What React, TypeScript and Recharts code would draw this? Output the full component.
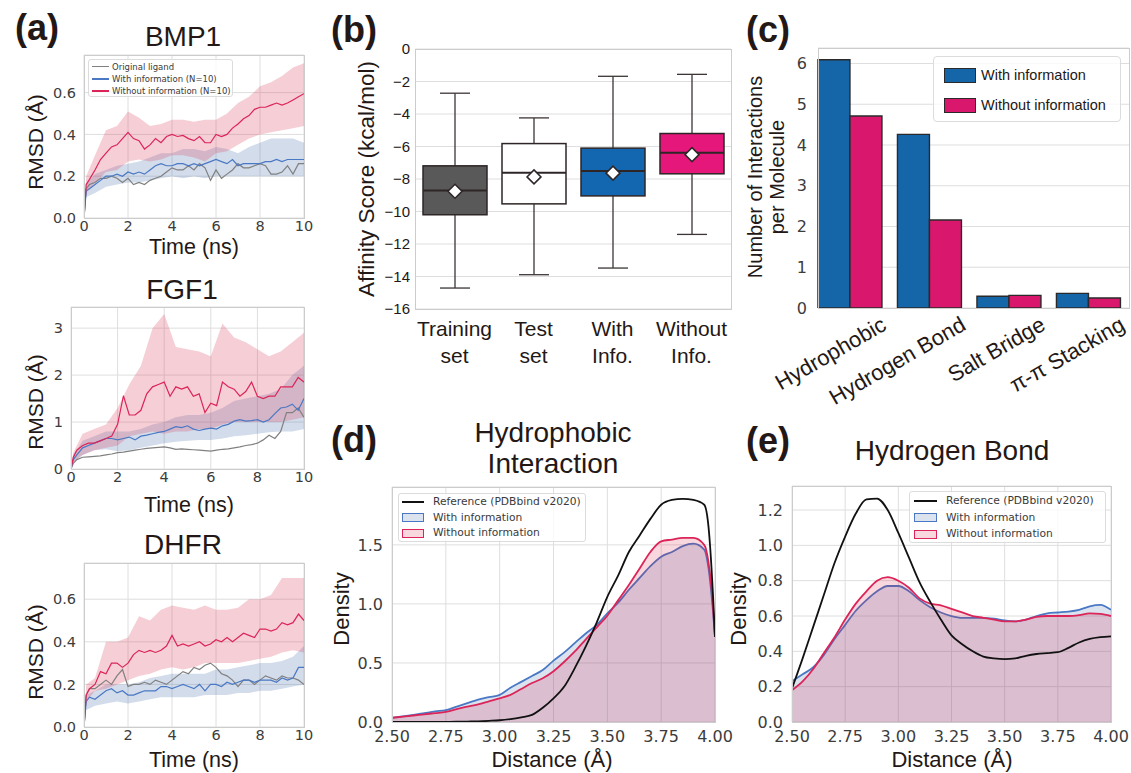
import React from "react";
import {
  ComposedChart,
  BarChart,
  Bar,
  Line,
  Area,
  XAxis,
  YAxis,
  CartesianGrid
} from "recharts";

const UI = '"Liberation Sans", Arial, Helvetica, sans-serif';
const DJ = '"DejaVu Sans", Verdana, sans-serif';
const INK = "#231815";
const TICK = "#3c3c3c";
const GRID = "#dedede";
const SPINE = "#cccccc";

const RED = "#dc2458";
const BLUE = "#4a78c4";
const GREY = "#808080";

// ---------- (a) RMSD traces ----------
const lineTimes = [0, 0.1, ...Array.from({ length: 40 }, (_, i) => (i + 1) * 0.25)];
const bandTimes = [0, 0.1, ...Array.from({ length: 20 }, (_, i) => (i + 1) * 0.5)];

const bmpOrig = [0, 0.14, 0.16, 0.17, 0.19, 0.19, 0.2, 0.19, 0.17, 0.19, 0.16, 0.17, 0.16, 0.18, 0.19, 0.2, 0.22, 0.24, 0.23, 0.23, 0.25, 0.23, 0.26, 0.24, 0.18, 0.23, 0.19, 0.21, 0.23, 0.26, 0.24, 0.24, 0.25, 0.26, 0.25, 0.21, 0.21, 0.22, 0.25, 0.21, 0.26, 0.26];
const bmpWith = [0, 0.13, 0.14, 0.16, 0.18, 0.2, 0.2, 0.21, 0.2, 0.22, 0.21, 0.22, 0.21, 0.23, 0.25, 0.26, 0.25, 0.25, 0.26, 0.26, 0.25, 0.26, 0.25, 0.26, 0.27, 0.28, 0.27, 0.26, 0.28, 0.25, 0.26, 0.26, 0.26, 0.26, 0.27, 0.27, 0.28, 0.27, 0.28, 0.28, 0.28, 0.28];
const bmpWithout = [0, 0.16, 0.185, 0.23, 0.28, 0.31, 0.34, 0.35, 0.38, 0.41, 0.38, 0.37, 0.33, 0.35, 0.38, 0.36, 0.39, 0.4, 0.39, 0.395, 0.38, 0.37, 0.39, 0.36, 0.36, 0.4, 0.39, 0.4, 0.43, 0.45, 0.475, 0.49, 0.52, 0.53, 0.53, 0.54, 0.55, 0.54, 0.55, 0.565, 0.58, 0.595];
const bmpWithLo = [0, 0.1, 0.12, 0.15, 0.16, 0.17, 0.17, 0.18, 0.19, 0.2, 0.19, 0.2, 0.19, 0.2, 0.2, 0.2, 0.2, 0.2, 0.2, 0.2, 0.2, 0.2];
const bmpWithHi = [0, 0.16, 0.21, 0.23, 0.25, 0.26, 0.27, 0.29, 0.31, 0.31, 0.33, 0.33, 0.32, 0.34, 0.33, 0.31, 0.34, 0.36, 0.38, 0.38, 0.38, 0.36];
const bmpWithoutLo = [0, 0.12, 0.17, 0.22, 0.23, 0.27, 0.28, 0.27, 0.28, 0.3, 0.3, 0.29, 0.27, 0.31, 0.32, 0.35, 0.38, 0.4, 0.41, 0.42, 0.43, 0.44];
const bmpWithoutHi = [0, 0.2, 0.3, 0.42, 0.44, 0.51, 0.48, 0.44, 0.45, 0.47, 0.47, 0.46, 0.47, 0.47, 0.5, 0.55, 0.58, 0.63, 0.65, 0.68, 0.72, 0.74];

const fgfOrig = [0, 0.12, 0.2, 0.25, 0.26, 0.27, 0.28, 0.3, 0.32, 0.35, 0.36, 0.38, 0.4, 0.42, 0.44, 0.45, 0.46, 0.47, 0.45, 0.42, 0.43, 0.42, 0.41, 0.4, 0.39, 0.38, 0.4, 0.42, 0.43, 0.45, 0.47, 0.5, 0.52, 0.55, 0.62, 0.72, 0.65, 0.8, 1.2, 1.2, 1.3, 1.1];
const fgfWith = [0, 0.2, 0.3, 0.45, 0.5, 0.55, 0.6, 0.65, 0.65, 0.62, 0.65, 0.68, 0.62, 0.7, 0.72, 0.75, 0.78, 0.8, 0.85, 0.9, 0.88, 0.92, 0.85, 0.82, 0.85, 0.87, 0.85, 0.92, 0.95, 1.02, 1.05, 1.02, 1.03, 1.05, 1.0, 1.05, 1.18, 1.3, 1.32, 1.38, 1.25, 1.5];
const fgfWithout = [0, 0.25, 0.4, 0.5, 0.55, 0.55, 0.6, 0.65, 0.7, 0.95, 1.56, 1.15, 1.15, 1.25, 1.6, 1.75, 1.8, 1.85, 1.55, 1.75, 1.7, 1.75, 1.55, 1.6, 1.2, 1.4, 1.35, 1.85, 1.75, 1.7, 1.55, 1.65, 1.85, 1.55, 1.5, 1.55, 1.55, 1.75, 1.75, 1.75, 1.95, 1.85];
const fgfWithLo = [0, 0.15, 0.3, 0.4, 0.42, 0.38, 0.4, 0.45, 0.5, 0.55, 0.58, 0.6, 0.62, 0.62, 0.65, 0.7, 0.72, 0.75, 0.78, 0.8, 0.8, 0.85];
const fgfWithHi = [0, 0.3, 0.6, 0.7, 0.8, 0.8, 0.8, 0.85, 0.95, 1.0, 1.1, 1.15, 1.15, 1.2, 1.3, 1.45, 1.5, 1.55, 1.6, 1.7, 2.0, 2.2];
const fgfWithoutLo = [0, 0.15, 0.3, 0.4, 0.45, 0.5, 0.7, 0.75, 0.8, 0.75, 0.8, 0.8, 0.85, 0.85, 0.95, 1.0, 1.0, 1.0, 1.0, 1.0, 1.05, 1.1];
const fgfWithoutHi = [0, 0.35, 0.75, 0.85, 0.95, 1.3, 1.8, 2.2, 3.0, 3.3, 2.6, 2.55, 2.5, 2.4, 3.1, 2.8, 2.7, 2.55, 2.4, 2.5, 2.7, 2.9];

const dhfrOrig = [0, 0.15, 0.18, 0.18, 0.2, 0.22, 0.2, 0.24, 0.27, 0.19, 0.2, 0.2, 0.21, 0.2, 0.22, 0.21, 0.2, 0.22, 0.24, 0.26, 0.25, 0.28, 0.27, 0.29, 0.3, 0.28, 0.25, 0.24, 0.22, 0.19, 0.22, 0.22, 0.2, 0.22, 0.24, 0.23, 0.22, 0.24, 0.23, 0.23, 0.22, 0.2];
const dhfrWith = [0, 0.12, 0.14, 0.13, 0.15, 0.17, 0.18, 0.16, 0.17, 0.15, 0.15, 0.16, 0.17, 0.17, 0.17, 0.19, 0.19, 0.18, 0.19, 0.2, 0.19, 0.18, 0.2, 0.17, 0.2, 0.2, 0.19, 0.21, 0.2, 0.21, 0.22, 0.22, 0.21, 0.22, 0.22, 0.22, 0.21, 0.23, 0.22, 0.23, 0.28, 0.28];
const dhfrWithout = [0, 0.15, 0.18, 0.2, 0.26, 0.25, 0.3, 0.3, 0.28, 0.3, 0.34, 0.36, 0.35, 0.36, 0.35, 0.36, 0.38, 0.43, 0.38, 0.39, 0.38, 0.39, 0.4, 0.38, 0.39, 0.41, 0.4, 0.42, 0.4, 0.42, 0.44, 0.43, 0.42, 0.46, 0.46, 0.45, 0.46, 0.49, 0.48, 0.49, 0.53, 0.5];
const dhfrWithLo = [0, 0.08, 0.1, 0.11, 0.12, 0.11, 0.12, 0.13, 0.14, 0.14, 0.14, 0.14, 0.15, 0.15, 0.15, 0.16, 0.16, 0.17, 0.17, 0.18, 0.19, 0.2];
const dhfrWithHi = [0, 0.15, 0.17, 0.2, 0.2, 0.2, 0.21, 0.23, 0.24, 0.25, 0.25, 0.25, 0.25, 0.27, 0.27, 0.28, 0.29, 0.3, 0.3, 0.31, 0.33, 0.38];
const dhfrWithoutLo = [0, 0.12, 0.17, 0.18, 0.2, 0.22, 0.24, 0.25, 0.27, 0.28, 0.27, 0.28, 0.3, 0.3, 0.3, 0.3, 0.31, 0.32, 0.33, 0.35, 0.36, 0.35];
const dhfrWithoutHi = [0, 0.2, 0.23, 0.4, 0.4, 0.42, 0.52, 0.5, 0.55, 0.57, 0.56, 0.55, 0.57, 0.55, 0.55, 0.56, 0.6, 0.6, 0.62, 0.7, 0.7, 0.7];

// ---------- (b) affinity box plot ----------
const boxCats = ["Training set", "Test set", "With Info.", "Without Info."];
const boxLabelTop = ["Training", "Test", "With", "Without"];
const boxLabelBottom = ["set", "set", "Info.", "Info."];
const whiskerLow = [-14.71, -13.89, -13.48, -11.41];
const q1 = [-10.2, -9.53, -9.04, -7.68];
const medians = [-8.71, -7.62, -7.5, -6.39];
const q3 = [-7.19, -5.82, -6.1, -5.2];
const whiskerHigh = [-2.72, -4.24, -1.68, -1.56];
const means = [-8.75, -7.87, -7.64, -6.5];
const affinityTicks = [0, -2, -4, -6, -8, -10, -12, -14, -16];
const boxColors = ["#595959", "#ffffff", "#1367b0", "#e5177a"];

// ---------- (c) interactions ----------
const interCats = ["Hydrophobic", "Hydrogen Bond", "Salt Bridge", "π-π Stacking"];
const interWith = [6.09, 4.26, 0.29, 0.36];
const interWithout = [4.71, 2.16, 0.31, 0.245];
const interTicks = [0, 1, 2, 3, 4, 5, 6];

// ---------- (d) hydrophobic distance density ----------
const dDist = [2.5, 2.55, 2.6, 2.65, 2.7, 2.75, 2.8, 2.85, 2.9, 2.95, 3.0, 3.05, 3.1, 3.15, 3.2, 3.25, 3.3, 3.35, 3.4, 3.45, 3.5, 3.55, 3.6, 3.65, 3.7, 3.75, 3.8, 3.85, 3.9, 3.95, 3.97, 3.99, 4.0];
const dRef = [0, 0, 0, 0, 0, 0.001, 0.002, 0.004, 0.006, 0.01, 0.015, 0.025, 0.04, 0.06, 0.12, 0.2, 0.3, 0.46, 0.64, 0.84, 1.06, 1.24, 1.44, 1.58, 1.72, 1.84, 1.88, 1.89, 1.88, 1.84, 1.65, 1.1, 0.72];
const dWith = [0.037, 0.048, 0.06, 0.075, 0.09, 0.1, 0.13, 0.16, 0.19, 0.21, 0.23, 0.29, 0.34, 0.39, 0.44, 0.52, 0.59, 0.67, 0.75, 0.82, 0.92, 1.01, 1.12, 1.22, 1.32, 1.4, 1.44, 1.49, 1.51, 1.46, 1.3, 0.95, 0.72];
const dWithout = [0.035, 0.045, 0.055, 0.065, 0.075, 0.085, 0.11, 0.13, 0.15, 0.175, 0.2, 0.23, 0.28, 0.33, 0.37, 0.43, 0.51, 0.6, 0.7, 0.8, 0.9, 1.03, 1.16, 1.3, 1.44, 1.53, 1.545, 1.56, 1.56, 1.5, 1.35, 1.0, 0.72];

// ---------- (e) hydrogen bond distance density ----------
const eDist = [2.5, 2.55, 2.6, 2.65, 2.7, 2.75, 2.8, 2.85, 2.9, 2.95, 3.0, 3.05, 3.1, 3.15, 3.2, 3.25, 3.3, 3.35, 3.4, 3.45, 3.5, 3.55, 3.6, 3.65, 3.7, 3.75, 3.8, 3.85, 3.9, 3.95, 4.0];
const eRef = [0.19, 0.36, 0.54, 0.72, 0.9, 1.05, 1.18, 1.26, 1.265, 1.2, 1.07, 0.93, 0.79, 0.68, 0.58, 0.49, 0.44, 0.4, 0.37, 0.36, 0.356, 0.36, 0.375, 0.385, 0.39, 0.395, 0.42, 0.45, 0.47, 0.48, 0.485];
const eWith = [0.23, 0.27, 0.31, 0.38, 0.47, 0.55, 0.63, 0.69, 0.74, 0.77, 0.77, 0.74, 0.69, 0.65, 0.62, 0.6, 0.59, 0.59, 0.59, 0.585, 0.575, 0.57, 0.58, 0.6, 0.615, 0.62, 0.625, 0.635, 0.655, 0.663, 0.635];
const eWithout = [0.18, 0.23, 0.3, 0.39, 0.48, 0.58, 0.67, 0.74, 0.8, 0.82, 0.8, 0.76, 0.7, 0.67, 0.66, 0.64, 0.62, 0.6, 0.59, 0.58, 0.57, 0.57, 0.58, 0.595, 0.6, 0.6, 0.6, 0.605, 0.615, 0.612, 0.6];

const distTicks = [2.5, 2.75, 3.0, 3.25, 3.5, 3.75, 4.0];

type Rect = { x0: number; y0: number; x1: number; y1: number };

const Txt = ({ x, y, size, rotate, bold, family, color, children }: any) => (
  <div
    style={{
      position: "absolute",
      left: x,
      top: y,
      transform: `translate(-50%, -50%)${rotate ? " rotate(-90deg)" : ""}`,
      fontSize: size,
      fontFamily: family || UI,
      fontWeight: bold ? 700 : 400,
      color: color || INK,
      whiteSpace: "pre",
      textAlign: "center",
      lineHeight: 1.12
    }}
  >
    {children}
  </div>
);

const Frame = ({ r }: { r: Rect }) => (
  <div
    style={{
      position: "absolute",
      left: r.x0,
      top: r.y0,
      width: r.x1 - r.x0 + 1,
      height: r.y1 - r.y0 + 1,
      border: `1px solid ${SPINE}`,
      boxSizing: "border-box",
      pointerEvents: "none"
    }}
  />
);

const Holder = ({ r, yw, mt, children }: any) => (
  <div style={{ position: "absolute", left: r.x0 - yw, top: r.y0 - mt }}>{children}</div>
);

// small legend made of html rows
const LegendBox = ({ left, top, width, height, rows, font, size, sample, textLeft, radius }: any) => (
  <div
    style={{
      position: "absolute",
      left,
      top,
      width,
      height,
      background: "rgba(255,255,255,0.8)",
      border: "1px solid #dcdcdc",
      borderRadius: radius,
      boxSizing: "border-box"
    }}
  >
    {rows.map((row: any, i: number) => (
      <React.Fragment key={i}>
        {row.kind === "line" ? (
          <div
            style={{
              position: "absolute",
              left: sample.left,
              top: row.y - row.w / 2,
              width: sample.width,
              height: row.w,
              background: row.color
            }}
          />
        ) : (
          <div
            style={{
              position: "absolute",
              left: sample.left,
              top: row.y - sample.height / 2,
              width: sample.width,
              height: sample.height,
              background: row.fill,
              border: `${row.bw}px solid ${row.color}`,
              boxSizing: "border-box"
            }}
          />
        )}
        <div
          style={{
            position: "absolute",
            left: textLeft,
            top: row.y,
            transform: "translateY(-50%)",
            fontFamily: font,
            fontSize: size,
            color: row.textColor || "#3a3a3a",
            whiteSpace: "nowrap",
            lineHeight: 1
          }}
        >
          {row.label}
        </div>
      </React.Fragment>
    ))}
  </div>
);

function RmsdPanel({ r, yMax, yTicks, digits, orig, withInfo, without, withLo, withHi, withoutLo, withoutHi }: any) {
  const lines = lineTimes.map((t, i) => ({ t, orig: orig[i], withInfo: withInfo[i], without: without[i] }));
  const bands = bandTimes.map((t, i) => ({
    t,
    withBand: [withLo[i], withHi[i]],
    withoutBand: [withoutLo[i], withoutHi[i]]
  }));
  const yw = 50;
  const mt = 8;
  const mr = 16;
  const xh = 22;
  const tick = { fontFamily: DJ, fontSize: 14.5, fill: TICK };
  return (
    <Holder r={r} yw={yw} mt={mt}>
      <ComposedChart
        width={yw + r.x1 - r.x0 + mr}
        height={mt + r.y1 - r.y0 + xh}
        margin={{ top: mt, right: mr, bottom: 0, left: 0 }}
      >
        <CartesianGrid stroke={GRID} strokeWidth={1} />
        <XAxis
          type="number"
          dataKey="t"
          domain={[0, 10]}
          ticks={[0, 2, 4, 6, 8, 10]}
          interval={0}
          allowDataOverflow
          axisLine={false}
          tickLine={false}
          tickSize={1}
          tickMargin={2}
          height={xh}
          tick={tick}
        />
        <YAxis
          type="number"
          domain={[0, yMax]}
          ticks={yTicks}
          interval={0}
          allowDataOverflow
          tickFormatter={(v: number) => v.toFixed(digits)}
          width={yw}
          axisLine={false}
          tickLine={false}
          tick={tick}
        />
        <Area data={bands} dataKey="withBand" type="linear" stroke="none" fill="#4c72b0" fillOpacity={0.25} isAnimationActive={false} />
        <Area data={bands} dataKey="withoutBand" type="linear" stroke="none" fill="#dc3c5a" fillOpacity={0.25} isAnimationActive={false} />
        <Line data={lines} dataKey="orig" type="linear" stroke={GREY} strokeWidth={1.2} dot={false} isAnimationActive={false} />
        <Line data={lines} dataKey="withInfo" type="linear" stroke={BLUE} strokeWidth={1.2} dot={false} isAnimationActive={false} />
        <Line data={lines} dataKey="without" type="linear" stroke={RED} strokeWidth={1.2} dot={false} isAnimationActive={false} />
      </ComposedChart>
    </Holder>
  );
}

const BoxShape = (props: any) => {
  const { x, y, width, height, payload, index } = props;
  const top = Math.min(y, y + height);
  const bot = Math.max(y, y + height);
  const { lo, hi } = payload;
  const py = (v: number) => top + ((hi - v) / (hi - lo)) * (bot - top);
  const cx = x + width / 2;
  const cap = 15;
  const ink = "#2e2626";
  const yq3 = py(payload.q3);
  const yq1 = py(payload.q1);
  const ym = py(payload.mean);
  const d = 7;
  return (
    <g>
      <line x1={cx} x2={cx} y1={py(hi)} y2={py(lo)} stroke="#3d3535" strokeWidth={1.3} />
      <line x1={cx - cap} x2={cx + cap} y1={py(hi)} y2={py(hi)} stroke="#3d3535" strokeWidth={1.3} />
      <line x1={cx - cap} x2={cx + cap} y1={py(lo)} y2={py(lo)} stroke="#3d3535" strokeWidth={1.3} />
      <rect x={x} y={yq3} width={width} height={yq1 - yq3} fill={boxColors[index]} stroke={ink} strokeWidth={1.5} />
      <line x1={x} x2={x + width} y1={py(payload.med)} y2={py(payload.med)} stroke={ink} strokeWidth={2} />
      <polygon
        points={`${cx},${ym - d} ${cx + d},${ym} ${cx},${ym + d} ${cx - d},${ym}`}
        fill="#ffffff"
        stroke={ink}
        strokeWidth={1.5}
      />
    </g>
  );
};

const BoxTick = (props: any) => {
  const { x, y, payload } = props;
  const i = boxCats.indexOf(payload.value);
  return (
    <text x={x} y={y} textAnchor="middle" fontFamily={UI} fontSize={21} fill={INK}>
      <tspan x={x} dy={19}>{boxLabelTop[i]}</tspan>
      <tspan x={x} dy={27}>{boxLabelBottom[i]}</tspan>
    </text>
  );
};

const InterTick = (props: any) => {
  const { x, y, payload } = props;
  const ax = x + 38;
  const ay = y + 13;
  return (
    <text x={ax} y={ay} textAnchor="end" fontFamily={UI} fontSize={22} fill={INK} transform={`rotate(-30 ${ax} ${ay})`}>
      {payload.value}
    </text>
  );
};

function DensityPanel({ r, yMax, yTicks, xs, ref, withInfo, without }: any) {
  const rows = xs.map((x: number, i: number) => ({ x, ref: ref[i], withInfo: withInfo[i], without: without[i] }));
  const yw = 60;
  const mt = 8;
  const mr = 24;
  const xh = 30;
  const tick = { fontFamily: DJ, fontSize: 16, fill: TICK };
  return (
    <Holder r={r} yw={yw} mt={mt}>
      <ComposedChart
        width={yw + r.x1 - r.x0 + mr}
        height={mt + r.y1 - r.y0 + xh}
        data={rows}
        margin={{ top: mt, right: mr, bottom: 0, left: 0 }}
      >
        <CartesianGrid stroke={GRID} strokeWidth={1} />
        <XAxis
          type="number"
          dataKey="x"
          domain={[2.5, 4]}
          ticks={distTicks}
          interval={0}
          allowDataOverflow
          tickFormatter={(v: number) => v.toFixed(2)}
          axisLine={false}
          tickLine={false}
          tickSize={7}
          tickMargin={2}
          height={xh}
          tick={tick}
        />
        <YAxis
          type="number"
          domain={[0, yMax]}
          ticks={yTicks}
          interval={0}
          allowDataOverflow
          tickFormatter={(v: number) => v.toFixed(1)}
          width={yw}
          axisLine={false}
          tickLine={false}
          tickSize={7}
          tickMargin={2}
          tick={tick}
        />
        <Area dataKey="withInfo" type="monotone" stroke={BLUE} strokeWidth={1.8} fill="#4c72b0" fillOpacity={0.2} isAnimationActive={false} />
        <Area dataKey="without" type="monotone" stroke={RED} strokeWidth={1.8} fill="#dc143c" fillOpacity={0.17} isAnimationActive={false} />
        <Line dataKey="ref" type="monotone" stroke="#111111" strokeWidth={1.8} dot={false} isAnimationActive={false} />
      </ComposedChart>
    </Holder>
  );
}

const densityRows = (boxY: number[]) => [
  { kind: "line", label: "Reference (PDBbind v2020)", color: "#111111", w: 2, y: boxY[0] },
  { kind: "patch", label: "With information", color: BLUE, fill: "rgba(76,114,176,0.2)", bw: 1.6, y: boxY[1] },
  { kind: "patch", label: "Without information", color: RED, fill: "rgba(220,20,60,0.17)", bw: 1.6, y: boxY[2] }
];

export default function App() {
  const rBmp: Rect = { x0: 84, y0: 55, x1: 304, y1: 218 };
  const rFgf: Rect = { x0: 71, y0: 307, x1: 304, y1: 469 };
  const rDhfr: Rect = { x0: 84, y0: 563, x1: 304, y1: 727 };
  const rBox: Rect = { x0: 415, y0: 49, x1: 731, y1: 309 };
  const rBar: Rect = { x0: 818, y0: 48, x1: 1129, y1: 308 };
  const rD: Rect = { x0: 392, y0: 487, x1: 715, y1: 722 };
  const rE: Rect = { x0: 792, y0: 486, x1: 1111, y1: 722 };

  const boxRows = boxCats.map((name, i) => ({
    name,
    span: [whiskerLow[i], whiskerHigh[i]],
    lo: whiskerLow[i],
    q1: q1[i],
    med: medians[i],
    q3: q3[i],
    hi: whiskerHigh[i],
    mean: means[i]
  }));
  const interRows = interCats.map((name, i) => ({ name, withInfo: interWith[i], without: interWithout[i] }));

  return (
    <div style={{ position: "absolute", left: 0, top: 0, width: 1131, height: 773, background: "#fff", overflow: "hidden" }}>
      {/* ---- (a) ---- */}
      <RmsdPanel r={rBmp} yMax={0.78} yTicks={[0, 0.2, 0.4, 0.6]} digits={1} orig={bmpOrig} withInfo={bmpWith} without={bmpWithout} withLo={bmpWithLo} withHi={bmpWithHi} withoutLo={bmpWithoutLo} withoutHi={bmpWithoutHi} />
      <RmsdPanel r={rFgf} yMax={3.45} yTicks={[0, 1, 2, 3]} digits={0} orig={fgfOrig} withInfo={fgfWith} without={fgfWithout} withLo={fgfWithLo} withHi={fgfWithHi} withoutLo={fgfWithoutLo} withoutHi={fgfWithoutHi} />
      <RmsdPanel r={rDhfr} yMax={0.77} yTicks={[0, 0.2, 0.4, 0.6]} digits={1} orig={dhfrOrig} withInfo={dhfrWith} without={dhfrWithout} withLo={dhfrWithLo} withHi={dhfrWithHi} withoutLo={dhfrWithoutLo} withoutHi={dhfrWithoutHi} />
      <Frame r={rBmp} />
      <Frame r={rFgf} />
      <Frame r={rDhfr} />
      <LegendBox
        left={88}
        top={59}
        width={145}
        height={38}
        radius={3}
        font={DJ}
        size={8.5}
        sample={{ left: 3, width: 17, height: 6 }}
        textLeft={23}
        rows={[
          { kind: "line", label: "Original ligand", color: GREY, w: 1.4, y: 6.5 },
          { kind: "line", label: "With information (N=10)", color: BLUE, w: 1.4, y: 19 },
          { kind: "line", label: "Without information (N=10)", color: RED, w: 1.4, y: 31 }
        ]}
      />
      <Txt x={183} y={37} size={28}>BMP1</Txt>
      <Txt x={182} y={290} size={28}>FGF1</Txt>
      <Txt x={183} y={545} size={28}>DHFR</Txt>
      <Txt x={194} y={247} size={21.5}>Time (ns)</Txt>
      <Txt x={189} y={505} size={21.5}>Time (ns)</Txt>
      <Txt x={194} y={760} size={21.5}>Time (ns)</Txt>
      <Txt x={36} y={142} size={21} rotate>RMSD (Å)</Txt>
      <Txt x={36} y={402} size={21} rotate>RMSD (Å)</Txt>
      <Txt x={36} y={652} size={21} rotate>RMSD (Å)</Txt>

      {/* ---- (b) ---- */}
      <Holder r={rBox} yw={50} mt={10}>
        <BarChart
          width={50 + rBox.x1 - rBox.x0 + 2}
          height={10 + rBox.y1 - rBox.y0 + 64}
          data={boxRows}
          barSize={64}
          margin={{ top: 10, right: 2, bottom: 0, left: 0 }}
        >
          <CartesianGrid stroke={GRID} vertical={false} />
          <XAxis dataKey="name" interval={0} axisLine={false} tickLine={false} height={64} tick={<BoxTick />} />
          <YAxis
            type="number"
            domain={[-16, 0]}
            ticks={affinityTicks}
            interval={0}
            allowDataOverflow
            tickFormatter={(v: number) => (v === 0 ? "0" : `\u2212${Math.abs(v)}`)}
            width={50}
            axisLine={false}
            tickLine={false}
            tickSize={3}
            tickMargin={2}
            tick={{ fontFamily: UI, fontSize: 15, fill: INK }}
          />
          <Bar dataKey="span" shape={<BoxShape />} isAnimationActive={false} />
        </BarChart>
      </Holder>
      <Frame r={rBox} />
      <Txt x={367} y={179} size={22.5} rotate>Affinity Score (kcal/mol)</Txt>

      {/* ---- (c) ---- */}
      <Holder r={rBar} yw={70} mt={8}>
        <BarChart
          width={70 + rBar.x1 - rBar.x0 + 2}
          height={8 + rBar.y1 - rBar.y0 + 115}
          data={interRows}
          barCategoryGap="10%"
          barGap={0}
          margin={{ top: 8, right: 2, bottom: 0, left: 0 }}
        >
          <CartesianGrid stroke={GRID} vertical={false} />
          <XAxis dataKey="name" interval={0} axisLine={false} tickLine={false} height={115} padding={{ left: -8, right: 1 }} tick={<InterTick />} />
          <YAxis
            type="number"
            domain={[0, 6.38]}
            ticks={interTicks}
            interval={0}
            allowDataOverflow
            width={70}
            axisLine={false}
            tickLine={false}
            tickSize={9}
            tickMargin={2}
            tick={{ fontFamily: DJ, fontSize: 16, fill: TICK }}
          />
          <Bar dataKey="withInfo" fill="#1565a9" stroke="#2a2a2a" strokeWidth={1.4} isAnimationActive={false} />
          <Bar dataKey="without" fill="#d9186d" stroke="#2a2a2a" strokeWidth={1.4} isAnimationActive={false} />
        </BarChart>
      </Holder>
      <Frame r={rBar} />
      <LegendBox
        left={933}
        top={56}
        width={188}
        height={66}
        radius={4}
        font={UI}
        size={14.5}
        sample={{ left: 10, width: 32, height: 15 }}
        textLeft={47}
        rows={[
          { kind: "patch", label: "With information", color: "#2a2a2a", fill: "#1565a9", bw: 1.3, y: 18, textColor: INK },
          { kind: "patch", label: "Without information", color: "#2a2a2a", fill: "#d9186d", bw: 1.3, y: 48, textColor: INK }
        ]}
      />
      <Txt x={766} y={177} size={20} rotate>{"Number of Interactions\nper Molecule"}</Txt>

      {/* ---- (d) ---- */}
      <DensityPanel r={rD} yMax={1.99} yTicks={[0, 0.5, 1.0, 1.5]} xs={dDist} ref={dRef} withInfo={dWith} without={dWithout} />
      <Frame r={rD} />
      <LegendBox
        left={398}
        top={493}
        width={188}
        height={49}
        radius={3}
        font={DJ}
        size={10.7}
        sample={{ left: 3, width: 22, height: 9 }}
        textLeft={34}
        rows={densityRows([7.5, 23.7, 39])}
      />
      <Txt x={553} y={448} size={28}>{"Hydrophobic\nInteraction"}</Txt>
      <Txt x={552} y={760} size={22}>Distance (Å)</Txt>
      <Txt x={342} y={609} size={22} rotate>Density</Txt>

      {/* ---- (e) ---- */}
      <DensityPanel r={rE} yMax={1.336} yTicks={[0, 0.2, 0.4, 0.6, 0.8, 1.0, 1.2]} xs={eDist} ref={eRef} withInfo={eWith} without={eWithout} />
      <Frame r={rE} />
      <LegendBox
        left={909}
        top={491}
        width={197}
        height={52}
        radius={3}
        font={DJ}
        size={10.7}
        sample={{ left: 4, width: 23, height: 9 }}
        textLeft={36}
        rows={densityRows([9, 25.7, 42.3])}
      />
      <Txt x={952} y={451} size={28}>Hydrogen Bond</Txt>
      <Txt x={952} y={760} size={22}>Distance (Å)</Txt>
      <Txt x={739} y={609} size={22} rotate>Density</Txt>

      {/* panel letters */}
      <Txt x={37} y={28} size={36} bold>(a)</Txt>
      <Txt x={354} y={30} size={36} bold>(b)</Txt>
      <Txt x={768} y={30} size={36} bold>(c)</Txt>
      <Txt x={354} y={440} size={36} bold>(d)</Txt>
      <Txt x={768} y={441} size={36} bold>(e)</Txt>
    </div>
  );
}
